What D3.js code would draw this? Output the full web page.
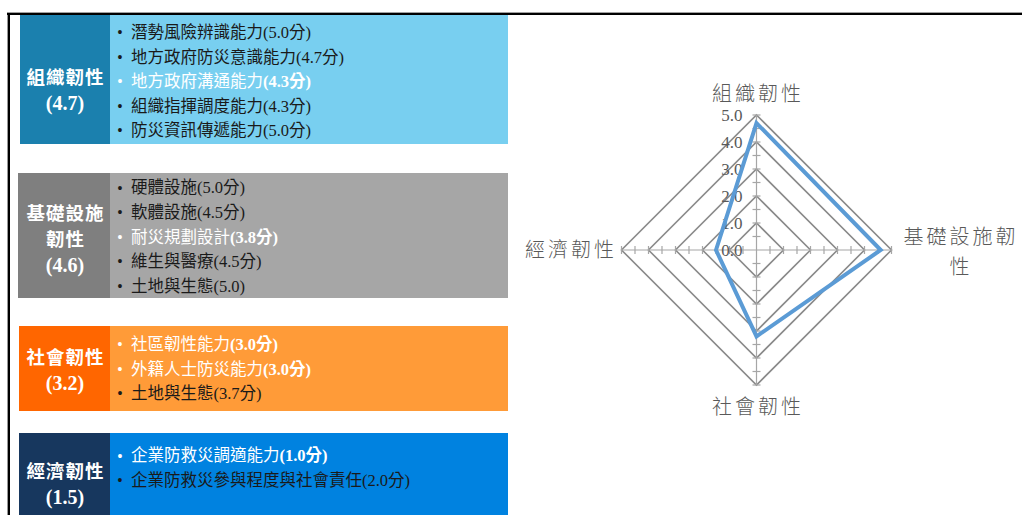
<!DOCTYPE html>
<html>
<head>
<meta charset="utf-8">
<script src="https://cdn.jsdelivr.net/npm/d3@7"></script>
<style>
  html, body { margin: 0; padding: 0; background: #ffffff; }
  svg { display: block; }
</style>
</head>
<body>
<svg id="chart" width="1022" height="515"></svg>
<script>
// Resilience dimensions and their overall scores
const dimensions = ["組織韌性", "基礎設施韌性", "社會韌性", "經濟韌性"];
const dimensionScores = [4.7, 4.6, 3.2, 1.5];

// Indicator items for each dimension
const orgItems = ["潛勢風險辨識能力(5.0分)", "地方政府防災意識能力(4.7分)", "地方政府溝通能力(4.3分)", "組織指揮調度能力(4.3分)", "防災資訊傳遞能力(5.0分)"];
const infraItems = ["硬體設施(5.0分)", "軟體設施(4.5分)", "耐災規劃設計(3.8分)", "維生與醫療(4.5分)", "土地與生態(5.0)"];
const socialItems = ["社區韌性能力(3.0分)", "外籍人士防災能力(3.0分)", "土地與生態(3.7分)"];
const econItems = ["企業防救災調適能力(1.0分)", "企業防救災參與程度與社會責任(2.0分)"];
const itemGroups = [orgItems, infraItems, socialItems, econItems];
// Items shown emphasised (index within each group)
const emphasised = [[2], [2], [0, 1], [0]];

// Radial axis ticks
const ringValues = [1, 2, 3, 4, 5];
const tickLabels = ["0.0", "1.0", "2.0", "3.0", "4.0", "5.0"];

// ---- layout ----
const svg = d3.select("#chart");
const panelStyle = [
  { dark: "#1B80AE", light: "#78CFF0" },
  { dark: "#7F7F7F", light: "#A6A6A6" },
  { dark: "#FF6600", light: "#FF9B38" },
  { dark: "#17375E", light: "#0082E0" }
];
const panelBox = [
  { top: 15, bottom: 144, x0: 20, headY: 90, firstItem: 32 },
  { top: 173, bottom: 298, x0: 18, headY: 239, firstItem: 187.5 },
  { top: 326, bottom: 411, x0: 19, headY: 370, firstItem: 344 },
  { top: 433, bottom: 530, x0: 19, headY: 484, firstItem: 455.5 }
];
const darkRight = 110, lightRight = 508, itemStep = 24.6;
const sansCJK = "'Noto Sans CJK TC', 'Noto Sans CJK SC', sans-serif";
const mixed = "'Liberation Serif', 'Noto Sans CJK TC', serif";

// frame lines
svg.append("line").attr("x1", 7).attr("x2", 1022).attr("y1", 12.5).attr("y2", 12.5)
  .attr("stroke", "#a0a0a0").attr("stroke-width", 1);
svg.append("line").attr("x1", 7).attr("x2", 1022).attr("y1", 14).attr("y2", 14)
  .attr("stroke", "#000").attr("stroke-width", 2.2);
svg.append("line").attr("x1", 8.8).attr("x2", 8.8).attr("y1", 13).attr("y2", 515)
  .attr("stroke", "#000").attr("stroke-width", 2.4);

// ---- dimension panels ----
dimensions.forEach((name, i) => {
  const box = panelBox[i], st = panelStyle[i];
  const g = svg.append("g");
  g.append("rect").attr("x", box.x0).attr("y", box.top)
    .attr("width", darkRight - box.x0).attr("height", box.bottom - box.top).attr("fill", st.dark);
  g.append("rect").attr("x", darkRight).attr("y", box.top)
    .attr("width", lightRight - darkRight).attr("height", box.bottom - box.top).attr("fill", st.light);

  // header: name wrapped at four characters, then the score
  const lines = [];
  for (let k = 0; k < name.length; k += 4) lines.push(name.slice(k, k + 4));
  lines.push("(" + dimensionScores[i].toFixed(1) + ")");
  const lh = 25.5;
  const y0 = box.headY - (lines.length - 1) * lh / 2;
  lines.forEach((t, k) => {
    const isNum = k === lines.length - 1;
    g.append("text")
      .attr("x", isNum ? 65 : 65.5).attr("y", y0 + k * lh).attr("dy", "0.36em")
      .attr("text-anchor", "middle")
      .attr("fill", "#fff")
      .attr("font-weight", "bold")
      .attr("font-size", isNum ? 20 : 18.5)
      .attr("letter-spacing", isNum ? 0 : 1)
      .attr("font-family", isNum ? "'Liberation Serif', serif" : sansCJK)
      .text(t);
  });

  // indicator items
  itemGroups[i].forEach((label, k) => {
    const hi = emphasised[i].includes(k);
    const col = hi ? "#ffffff" : "#1a1a1a";
    const y = box.firstItem + k * itemStep;
    g.append("text").attr("x", 120).attr("y", y).attr("dy", "0.36em")
      .attr("text-anchor", "middle").attr("font-size", 14)
      .attr("font-family", "'Liberation Sans', sans-serif").attr("fill", col).text("•");
    const cut = label.indexOf("(");
    const t = g.append("text").attr("x", 131).attr("y", y).attr("dy", "0.36em")
      .attr("font-size", 16.5).attr("font-family", mixed).attr("fill", col);
    t.append("tspan").text(label.slice(0, cut));
    t.append("tspan").attr("font-weight", hi ? "bold" : "normal").text(label.slice(cut));
  });
});

// ---- radar chart ----
const cx = 756.5, cy = 250, R = 135;
const r = d3.scaleLinear().domain([0, 5]).range([0, R]);
const angles = [-Math.PI / 2, 0, Math.PI / 2, Math.PI];
const pt = (a, v) => [cx + Math.cos(a) * r(v), cy + Math.sin(a) * r(v)];
const radar = svg.append("g");

// rings
ringValues.forEach(v => {
  radar.append("path")
    .attr("d", d3.line()(angles.map(a => pt(a, v))) + "Z")
    .attr("fill", "none").attr("stroke", "#8a8a8a").attr("stroke-width", 1.6);
});

// spokes with minor ticks
const minor = d3.range(0.5, 5.01, 0.5);
angles.forEach(a => {
  radar.append("line")
    .attr("x1", cx).attr("y1", cy)
    .attr("x2", pt(a, 5)[0]).attr("y2", pt(a, 5)[1])
    .attr("stroke", "#a6a6a6").attr("stroke-width", 1.2);
  const px = -Math.sin(a), py = Math.cos(a);
  minor.forEach(v => {
    const [x, y] = pt(a, v);
    radar.append("line")
      .attr("x1", x - px * 4).attr("y1", y - py * 4)
      .attr("x2", x + px * 4).attr("y2", y + py * 4)
      .attr("stroke", "#a6a6a6").attr("stroke-width", 1.2);
  });
});

// value labels on the vertical axis
tickLabels.forEach(t => {
  radar.append("text")
    .attr("x", cx - 14).attr("y", cy - r(+t)).attr("dy", "0.34em")
    .attr("text-anchor", "end")
    .attr("font-size", 17).attr("font-family", "'Liberation Serif', serif")
    .attr("fill", "#595959").text(t);
});

// score polygon
radar.append("path")
  .attr("d", d3.line()(angles.map((a, i) => pt(a, dimensionScores[i]))) + "Z")
  .attr("fill", "none").attr("stroke", "#5B9BD5").attr("stroke-width", 4)
  .attr("stroke-linejoin", "miter");

// category labels
const catFont = { size: 20, spacing: 3 };
function catLabel(lines, x, y, anchor) {
  const t = radar.append("text")
    .attr("text-anchor", anchor)
    .attr("font-size", catFont.size).attr("letter-spacing", catFont.spacing)
    .attr("font-family", sansCJK).attr("font-weight", 300)
    .attr("fill", "#595959");
  lines.forEach((s, k) => {
    t.append("tspan").attr("x", x).attr("y", y + k * 30).attr("dy", "0.36em").text(s);
  });
}
catLabel([dimensions[0]], cx + 1.5, 94, "middle");
catLabel([dimensions[1].slice(0, 5), dimensions[1].slice(5)], 961, 237, "middle");
catLabel([dimensions[2]], cx + 1.5, 407, "middle");
catLabel([dimensions[3]], 617, 250, "end");
</script>
</body>
</html>
